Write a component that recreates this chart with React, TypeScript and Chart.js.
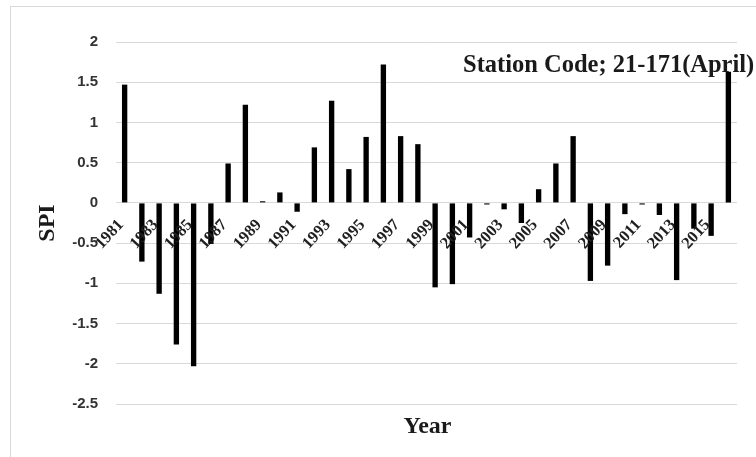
import React, { useEffect, useRef } from "react";
import { Chart, registerables } from "chart.js";

Chart.register(...registerables);

// Standardized Precipitation Index, April, station 21-171
const years: string[] = [
  "1981", "1982", "1983", "1984", "1985", "1986", "1987", "1988", "1989", "1990",
  "1991", "1992", "1993", "1994", "1995", "1996", "1997", "1998", "1999", "2000",
  "2001", "2002", "2003", "2004", "2005", "2006", "2007", "2008", "2009", "2010",
  "2011", "2012", "2013", "2014", "2015", "2016",
];

const spi: number[] = [
  1.47, -0.73, -1.13, -1.76, -2.03, -0.51, 0.49, 1.22, 0.02, 0.13,
  -0.11, 0.69, 1.27, 0.42, 0.82, 1.72, 0.83, 0.73, -1.05, -1.01,
  -0.43, -0.02, -0.08, -0.25, 0.17, 0.49, 0.83, -0.97, -0.78, -0.14,
  -0.02, -0.15, -0.96, -0.32, -0.41, 1.63,
];

const yMin = -2.5;
const yMax = 2;
const yStep = 0.5;

const stationTitle = "Station Code; 21-171(April)";
const xTitle = "Year";
const yTitle = "SPI";

const SERIF = "'Liberation Serif', 'Times New Roman', serif";
const SANS = "'Liberation Sans', Arial, sans-serif";

// Year labels sit on the zero line, slanted, every second year
const yearLabelPlugin = {
  id: "yearLabels",
  afterDatasetsDraw(chart: Chart) {
    const { ctx } = chart;
    const xs = chart.scales.x;
    const ys = chart.scales.y;
    const y0 = ys.getPixelForValue(0);
    ctx.save();
    ctx.fillStyle = "#1f1f1f";
    ctx.font = `bold 16.5px ${SERIF}`;
    ctx.textAlign = "right";
    ctx.textBaseline = "middle";
    years.forEach((yr, i) => {
      if (i % 2 !== 0) return;
      const x = xs.getPixelForValue(i);
      ctx.save();
      ctx.translate(x - 3.5, y0 + 19.5);
      ctx.rotate((-47 * Math.PI) / 180);
      ctx.fillText(yr, 0, 0);
      ctx.restore();
    });
    ctx.restore();
  },
};

// Station caption inside the plot and the x-axis title under it
const captionPlugin = {
  id: "captions",
  afterDraw(chart: Chart) {
    const { ctx, chartArea } = chart;
    ctx.save();
    ctx.fillStyle = "#1a1a1a";
    ctx.font = `bold 24.5px ${SERIF}`;
    ctx.textAlign = "left";
    ctx.textBaseline = "alphabetic";
    ctx.fillText(stationTitle, chartArea.left + 347, chartArea.top + 29.5);

    ctx.font = `bold 24px ${SERIF}`;
    ctx.textAlign = "center";
    ctx.fillText(xTitle, (chartArea.left + chartArea.right) / 2 + 1, chartArea.bottom + 29);
    ctx.restore();
  },
};

export default function App() {
  const canvasRef = useRef<HTMLCanvasElement | null>(null);

  useEffect(() => {
    if (!canvasRef.current) return;
    const chart = new Chart(canvasRef.current, {
      type: "bar",
      data: {
        labels: years,
        datasets: [
          {
            label: yTitle,
            data: spi,
            backgroundColor: "#000000",
            borderWidth: 0,
            barPercentage: 0.31,
            categoryPercentage: 1,
          },
        ],
      },
      plugins: [yearLabelPlugin, captionPlugin],
      options: {
        responsive: true,
        maintainAspectRatio: false,
        animation: false,
        layout: {
          padding: { left: 0, right: 19, top: 42, bottom: 53 },
        },
        plugins: {
          legend: { display: false },
          tooltip: { enabled: false },
          title: { display: false },
        },
        scales: {
          x: {
            position: { y: 0 } as any,
            grid: { display: false, drawTicks: false },
            border: { display: false },
            ticks: { display: false },
          },
          y: {
            min: yMin,
            max: yMax,
            afterFit: (scale: any) => {
              scale.width = 116;
            },
            grid: { color: "#d9d9d9", lineWidth: 1, drawTicks: false },
            border: { display: false },
            ticks: {
              stepSize: yStep,
              padding: 18,
              color: "#333333",
              font: { family: SANS, size: 15, weight: "bold" },
              callback: (v: any) => String(v),
            },
            title: {
              display: true,
              text: yTitle,
              color: "#1a1a1a",
              font: { family: SERIF, size: 24, weight: "bold" },
              padding: { top: 33, bottom: 0 },
            },
          },
        },
      },
    });
    return () => chart.destroy();
  }, []);

  return (
    <div style={{ position: "fixed", left: 0, top: 0, width: 756, height: 457, background: "#ffffff" }}>
      <div
        style={{
          position: "absolute",
          left: 10,
          top: 6,
          width: 800,
          height: 500,
          border: "1px solid #d9d9d9",
        }}
      />
      <div style={{ position: "absolute", left: 0, top: 0, width: 756, height: 457 }}>
        <canvas ref={canvasRef} />
      </div>
    </div>
  );
}
